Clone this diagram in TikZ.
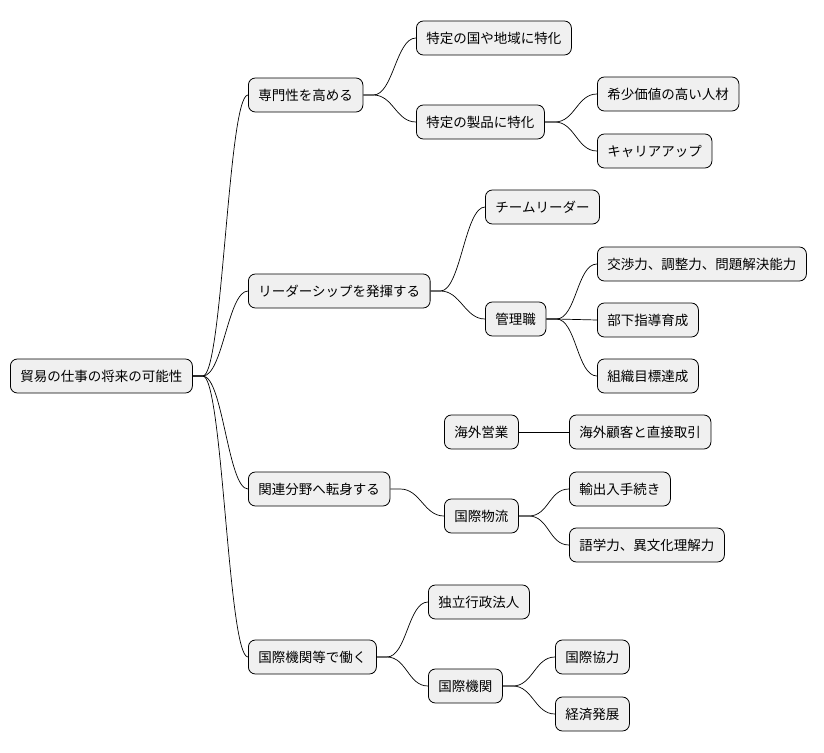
\documentclass[tikz,border=0pt]{standalone}
\usepackage{fontspec}
\setmainfont{Noto Sans CJK JP}
\begin{document}
\begin{tikzpicture}[x=1pt,y=-1pt,
 box/.style={draw=black,line width=0.8pt,fill=black!6,rounded corners=7pt,anchor=west,minimum height=34pt,inner xsep=10pt,inner ysep=0pt,font=\fontsize{13.5}{14}\selectfont},
 ed/.style={draw=black,line width=0.7pt}]
\useasboundingbox (0,0) rectangle (824,752);
\node[box] (r) at (10,376) {貿易の仕事の将来の可能性};
\node[box] (a) at (248,95) {専門性を高める};
\node[box] (a1) at (416,38) {特定の国や地域に特化};
\node[box] (a2) at (416,122) {特定の製品に特化};
\node[box] (a21) at (597,94) {希少価値の高い人材};
\node[box] (a22) at (597,151) {キャリアアップ};
\node[box] (b) at (248,291) {リーダーシップを発揮する};
\node[box] (b1) at (485,207) {チームリーダー};
\node[box] (b2) at (485,319) {管理職};
\node[box] (b21) at (597,264) {交渉力、調整力、問題解決能力};
\node[box] (b22) at (597,320) {部下指導育成};
\node[box] (b23) at (597,376) {組織目標達成};
\node[box] (c) at (248,489) {関連分野へ転身する};
\node[box] (c1) at (444,432) {海外営業};
\node[box] (c11) at (569,432) {海外顧客と直接取引};
\node[box] (c2) at (444,516) {国際物流};
\node[box] (c21) at (569,489) {輸出入手続き};
\node[box] (c22) at (569,545) {語学力、異文化理解力};
\node[box] (d) at (248,657) {国際機関等で働く};
\node[box] (d1) at (428,602) {独立行政法人};
\node[box] (d2) at (428,686) {国際機関};
\node[box] (d21) at (555,657) {国際協力};
\node[box] (d22) at (555,714) {経済発展};
\foreach \p/\c in {r/a,r/b,r/c,r/d,a/a1,a/a2,a2/a21,a2/a22,b/b1,b/b2,b2/b21,b2/b22,b2/b23,c/c2,c2/c21,c2/c22,d/d1,d/d2,d2/d21,d2/d22}
  \draw[ed] (\p.east) -- ++(10,0) .. controls +(20,0) and +(-20,0) .. (\c.west);
\draw[ed] (c1.east) -- (c11.west);
\end{tikzpicture}
\end{document}
